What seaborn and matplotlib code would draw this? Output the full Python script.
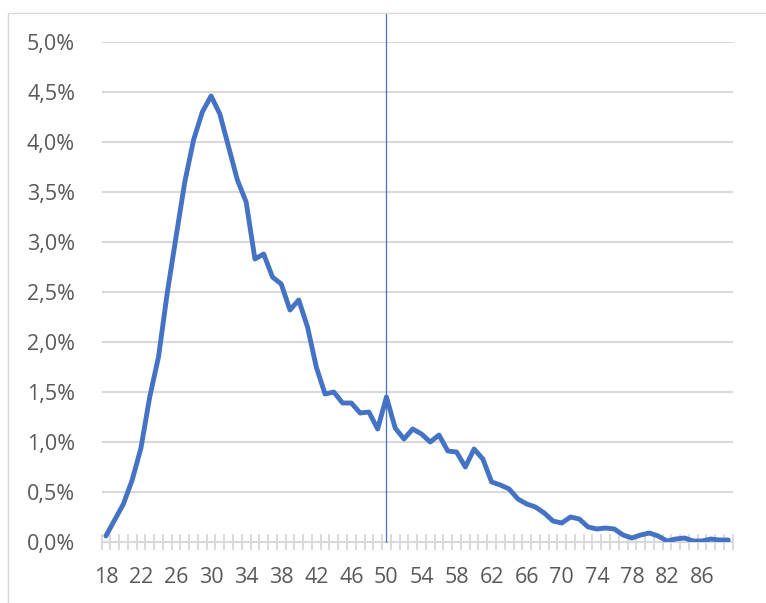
import matplotlib
matplotlib.use("Agg")
import matplotlib.pyplot as plt
import seaborn as sns
import numpy as np
import pandas as pd
from matplotlib.patches import Rectangle
from matplotlib.ticker import FixedLocator, FuncFormatter

ages = list(range(18, 90))
share_pct = [
    0.06, 0.22, 0.38, 0.62, 0.94, 1.45, 1.85, 2.49, 3.05, 3.60,   # 18-27
    4.02, 4.30, 4.46, 4.28, 3.95, 3.62, 3.40, 2.83, 2.88, 2.65,   # 28-37
    2.58, 2.32, 2.42, 2.15, 1.75, 1.48, 1.50, 1.39, 1.39, 1.29,   # 38-47
    1.30, 1.13, 1.45, 1.14, 1.03, 1.13, 1.08, 1.00, 1.07, 0.91,   # 48-57
    0.90, 0.75, 0.93, 0.83, 0.60, 0.57, 0.53, 0.43, 0.38, 0.35,   # 58-67
    0.29, 0.21, 0.19, 0.25, 0.23, 0.15, 0.13, 0.14, 0.13, 0.07,   # 68-77
    0.04, 0.07, 0.09, 0.06, 0.01, 0.03, 0.04, 0.01, 0.01, 0.03,   # 78-87
    0.02, 0.02,                                                   # 88-89
]
x_tick_labels = list(range(18, 90, 4))
y_ticks = [0.0, 0.5, 1.0, 1.5, 2.0, 2.5, 3.0, 3.5, 4.0, 4.5, 5.0]
marker_age = 50

df = pd.DataFrame({"age": ages, "share": share_pct})

sns.set_theme(style="white")
plt.rcParams["font.family"] = ["Open Sans", "DejaVu Sans"]

W, H = 766, 603
fig = plt.figure(figsize=(W / 100, H / 100), dpi=100)
left, right, top, bottom = 101.5, 732.7, 42, 542
ax = fig.add_axes([left / W, 1 - bottom / H, (right - left) / W, (bottom - top) / H])

grid_c = "#d9d9d9"
text_c = "#595959"
line_c = "#4472C4"

for yv in y_ticks[1:]:
    ax.axhline(yv, color=grid_c, lw=1.5, zorder=1)

sns.lineplot(data=df, x="age", y="share", ax=ax, color=line_c, lw=3.5,
             zorder=4, solid_capstyle="round", solid_joinstyle="round")

ax.axvline(marker_age, ymin=0, ymax=(bottom - 13) / (bottom - top), color=line_c,
           lw=0.9, zorder=3, clip_on=False)

ax.set_xlim(ages[0] - 0.5, ages[-1] + 0.5)
ax.set_ylim(0, 5.0)

ax.xaxis.set_major_locator(FixedLocator(x_tick_labels))
ax.xaxis.set_minor_locator(FixedLocator([a - 0.5 for a in ages] + [ages[-1] + 0.5]))
ax.set_xticklabels([str(v) for v in x_tick_labels])
ax.tick_params(axis="x", which="major", length=0, pad=18, labelsize=15.5, labelcolor=text_c)
ax.tick_params(axis="x", which="minor", bottom=True, direction="inout", length=12,
               width=1.4, color=grid_c)

ax.set_yticks(y_ticks)
ax.yaxis.set_major_formatter(FuncFormatter(lambda v, p: f"{v:.1f}%".replace(".", ",")))
ax.tick_params(axis="y", length=0, pad=19, labelsize=15.5, labelcolor=text_c)

for s in ["top", "right", "left"]:
    ax.spines[s].set_visible(False)
ax.spines["bottom"].set_color(grid_c)
ax.spines["bottom"].set_linewidth(1.5)
ax.set_xlabel("")
ax.set_ylabel("")

fig.patches.append(Rectangle((8 / W, -0.1), 1.2, 1 - 13 / H + 0.1,
                             transform=fig.transFigure, fill=False,
                             edgecolor=grid_c, lw=1.0))

fig.savefig("out.png", dpi=100)
